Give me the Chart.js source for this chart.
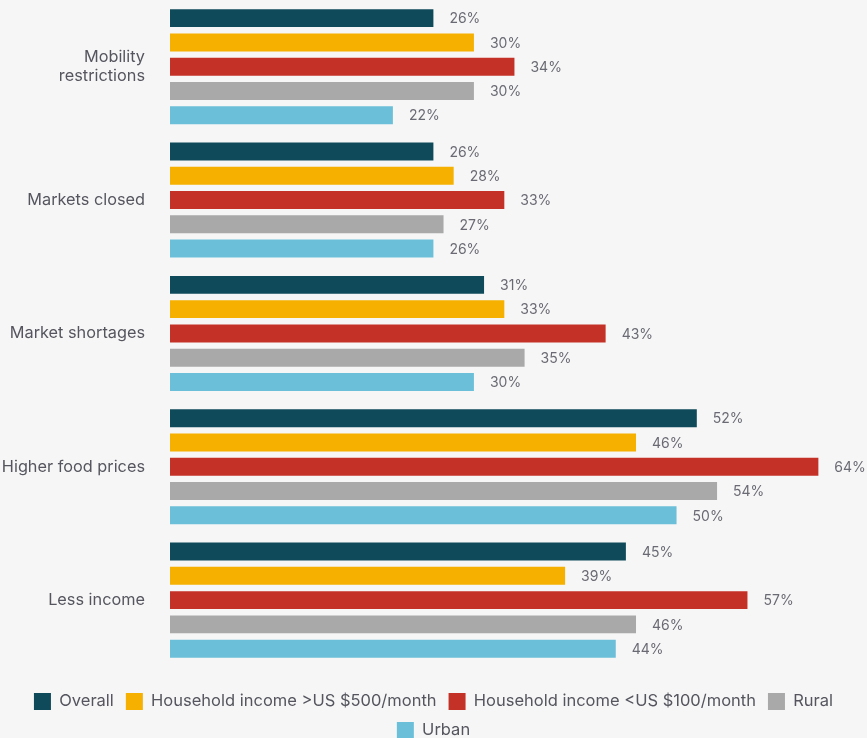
<!DOCTYPE html>
<html>
<head>
<meta charset="utf-8">
<script src="https://cdn.jsdelivr.net/npm/chart.js@4"></script>
<style>
  html, body { margin: 0; padding: 0; background: #f6f6f6; }
  #wrap { width: 867px; height: 738px; position: relative; }
</style>
</head>
<body>
<div id="wrap"><canvas id="chart"></canvas></div>
<script>
// categories and series values (%)
const categories = [['Mobility', 'restrictions'], 'Markets closed', 'Market shortages', 'Higher food prices', 'Less income'];
const overall = [26, 26, 31, 52, 45];
const incomeHigh = [30, 28, 33, 46, 39];
const incomeLow = [34, 33, 43, 64, 57];
const rural = [30, 27, 35, 54, 46];
const urban = [22, 26, 30, 50, 44];

const seriesNames = ['Overall', 'Household income >US $500/month', 'Household income <US $100/month', 'Rural', 'Urban'];
const seriesColors = ['#0f4a5a', '#f5b000', '#c43127', '#a9a9a9', '#6bbfd9'];
const seriesData = [overall, incomeHigh, incomeLow, rural, urban];

const FONT = 'Inter, "Noto Sans", sans-serif';
const TEXT = '#55555f';

// draw the % labels at the end of each bar
const valueLabels = {
    id: 'valueLabels',
    afterDatasetsDraw(chart) {
        const ctx = chart.ctx;
        ctx.save();
        ctx.font = '14px ' + FONT;
        ctx.fillStyle = '#6a6a74';
        ctx.textBaseline = 'middle';
        ctx.textAlign = 'left';
        chart.data.datasets.forEach((ds, i) => {
            chart.getDatasetMeta(i).data.forEach((bar, j) => {
                ctx.fillText(ds.data[j] + '%', bar.x + 16, bar.y + 1);
            });
        });
        ctx.restore();
    }
};

new Chart(document.getElementById('chart'), {
    type: 'bar',
    data: {
        labels: categories,
        datasets: seriesData.map((d, i) => ({
            label: seriesNames[i],
            data: d,
            backgroundColor: seriesColors[i],
            borderWidth: 0,
            categoryPercentage: 0.91,
            barPercentage: 0.74
        }))
    },
    options: {
        indexAxis: 'y',
        responsive: true,
        maintainAspectRatio: false,
        animation: false,
        layout: { padding: { top: 0, right: 0, left: 0, bottom: -11 } },
        scales: {
            x: {
                display: false,
                min: 0,
                max: 68.8
            },
            y: {
                grid: { display: false, drawTicks: false },
                border: { display: false },
                ticks: {
                    color: TEXT,
                    font: { family: FONT, size: 16.3 },
                    padding: 25
                },
                afterFit(scale) {
                    scale.width = 170;
                    // labels sit beside their bars, no extra room above/below
                    scale.paddingTop = 0;
                    scale.paddingBottom = 0;
                }
            }
        },
        plugins: {
            legend: {
                position: 'bottom',
                title: {
                    display: true,
                    text: ' ',
                    font: { size: 1 },
                    padding: { top: 13, bottom: 0 }
                },
                labels: {
                    boxWidth: 17,
                    boxHeight: 17,
                    padding: 12,
                    color: TEXT,
                    font: { family: FONT, size: 16.5 }
                }
            },
            tooltip: { enabled: false }
        }
    },
    plugins: [valueLabels]
});
</script>
</body>
</html>
